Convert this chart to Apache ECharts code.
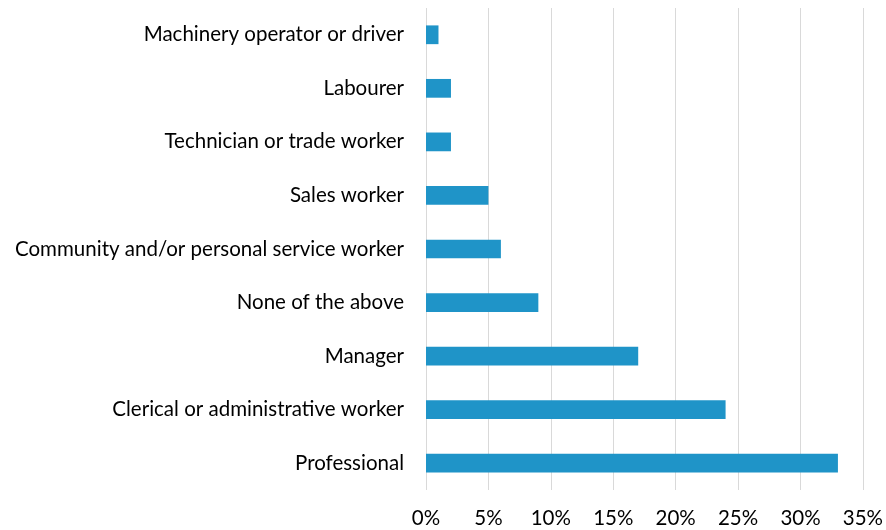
<!DOCTYPE html>
<html>
<head>
<meta charset="utf-8">
<script src="https://cdn.jsdelivr.net/npm/echarts@6/dist/echarts.min.js"></script>
<style>
  html, body { margin: 0; padding: 0; background: #fff; }
  #chart { width: 886px; height: 530px; }
</style>
</head>
<body>
<div id="chart"></div>
<script>
// categories listed bottom to top (category axis draws first item at the bottom)
const categories = [
  'Professional',
  'Clerical or administrative worker',
  'Manager',
  'None of the above',
  'Community and/or personal service worker',
  'Sales worker',
  'Technician or trade worker',
  'Labourer',
  'Machinery operator or driver'
];
const shares = [33, 24, 17, 9, 6, 5, 2, 2, 1];
const xTicks = [0, 5, 10, 15, 20, 25, 30, 35];

const chart = echarts.init(document.getElementById('chart'));

const optionData = {
  animation: false,
  grid: {
    left: 426,
    right: 21,
    top: 8,
    bottom: 40
  },
  xAxis: {
    type: 'value',
    min: xTicks[0],
    max: xTicks[xTicks.length - 1],
    interval: 5,
    axisLine: { show: false },
    axisTick: { show: false },
    splitLine: { lineStyle: { color: '#d9d9d9', width: 1 } },
    axisLabel: {
      formatter: '{value}%',
      color: '#000',
      fontFamily: 'Lato',
      fontSize: 20.5,
      margin: 18
    }
  },
  yAxis: {
    type: 'category',
    data: categories,
    axisLine: { show: false },
    axisTick: { show: false },
    axisLabel: {
      color: '#000',
      fontFamily: 'Lato',
      fontSize: 20.5,
      margin: 22
    }
  },
  series: [{
    type: 'bar',
    data: shares,
    barWidth: '35%',
    itemStyle: { color: '#1f94c8' }
  }]
};

chart.setOption(optionData);
</script>
</body>
</html>
